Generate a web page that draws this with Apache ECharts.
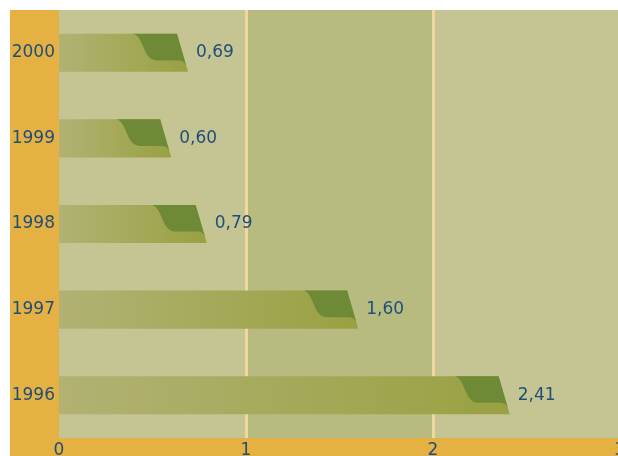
<!DOCTYPE html>
<html>
<head>
<meta charset="utf-8">
<script src="https://cdn.jsdelivr.net/npm/echarts@6/dist/echarts.min.js"></script>
<style>
  html, body { margin: 0; padding: 0; background: #fff; }
  #chart { width: 618px; height: 456px; }
</style>
</head>
<body>
<div id="chart"></div>
<script>
var years = ['1996', '1997', '1998', '1999', '2000'];
var values = [2.41, 1.60, 0.79, 0.60, 0.69];
var xTicks = [0, 1, 2, 3];

var labelColor = '#1f4e7a';
var orange = '#e4b142';

// bar shape: lighter gradient body, dark green cap with an s-curve, slanted end
function renderBar(params, api) {
  var val = api.value(0);
  var cat = api.value(1);
  var start = api.coord([0, cat]);
  var end = api.coord([val, cat]);
  var h = api.size([0, 1])[1] * 0.445;
  var top = start[1] - h / 2;
  var bot = start[1] + h / 2;
  var x0 = start[0];
  var xe = end[0];
  var s = h * 0.29;
  var xt = xe - s;
  var ym = top + h * 0.7;
  var slantAt = function (y) { return xt + s * (y - top) / h; };
  var xs = Math.max(x0, xt - 45);
  var xm = slantAt(ym);

  var dark = 'M' + xs + ',' + top +
    ' C' + (xs + 12) + ',' + top + ' ' + (xs + 10) + ',' + ym + ' ' + (xs + 25) + ',' + ym +
    ' L' + (xm - 6) + ',' + ym +
    ' Q' + (xm - 1) + ',' + ym + ' ' + slantAt(ym + 5) + ',' + (ym + 5) +
    ' L' + xt + ',' + top + ' Z';

  return {
    type: 'group',
    children: [
      {
        type: 'polygon',
        shape: { points: [[x0, top], [xt, top], [xe, bot], [x0, bot]] },
        style: {
          fill: new echarts.graphic.LinearGradient(0, 0, 1, 0, [
            { offset: 0, color: '#b1b273' },
            { offset: 1, color: '#99a142' }
          ])
        }
      },
      {
        type: 'path',
        shape: { pathData: dark },
        style: { fill: '#6f8a37' }
      },
      {
        type: 'text',
        style: {
          text: val.toFixed(2).replace('.', ','),
          x: xe + 8,
          y: start[1],
          verticalAlign: 'middle',
          fill: labelColor,
          font: '17px "DejaVu Sans"'
        }
      }
    ]
  };
}

var chart = echarts.init(document.getElementById('chart'));

chart.setOption({
  animation: false,
  grid: { left: 59, right: -2, top: 10, bottom: 18, containLabel: false, outerBoundsMode: 'none' },
  graphic: [
    { type: 'rect', z: -10, shape: { x: 10, y: 10, width: 49, height: 446 }, style: { fill: orange } },
    { type: 'rect', z: -10, shape: { x: 10, y: 438, width: 608, height: 18 }, style: { fill: orange } }
  ],
  xAxis: {
    type: 'value',
    min: xTicks[0],
    max: xTicks[xTicks.length - 1],
    interval: 1,
    axisLine: { show: false },
    axisTick: { show: false },
    axisLabel: {
      color: labelColor,
      fontFamily: 'DejaVu Sans',
      fontSize: 17,
      margin: 4,
      verticalAlign: 'top',
      showMaxLabel: true
    },
    splitLine: { show: true, showMinLine: false, showMaxLine: false, lineStyle: { color: '#f2d89c', width: 3 } },
    splitArea: { show: true, areaStyle: { color: ['#c4c592', '#b8bb80'] } }
  },
  yAxis: {
    type: 'category',
    data: years,
    axisLine: { show: false },
    axisTick: { show: false },
    axisLabel: {
      color: labelColor,
      fontFamily: 'DejaVu Sans',
      fontSize: 17,
      margin: 4
    }
  },
  series: [{
    type: 'custom',
    renderItem: renderBar,
    encode: { x: 0, y: 1 },
    data: values.map(function (v, i) { return [v, i]; })
  }]
});
</script>
</body>
</html>
